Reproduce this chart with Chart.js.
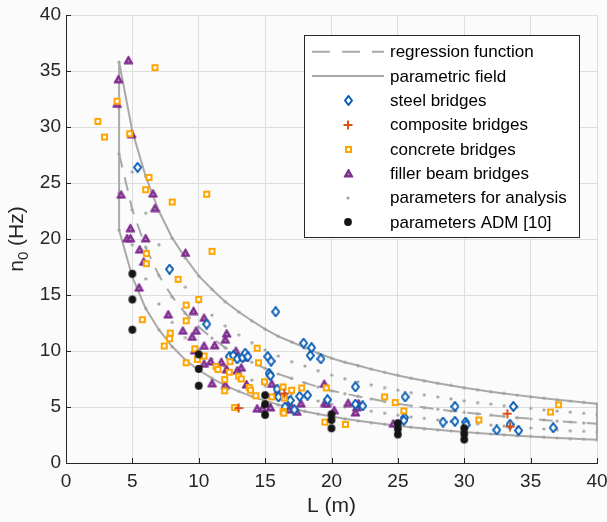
<!DOCTYPE html>
<html>
<head>
<meta charset="utf-8">
<style>
  body { margin: 0; background: #fbfbfb; }
  canvas { display: block; }
</style>
</head>
<body>
<canvas id="freqChart" width="607" height="522"></canvas>

<script src="https://cdn.jsdelivr.net/npm/chart.js"></script>
<script>
    // span lengths of the parametric field (m)
    var spanL = [4,5,6,7,8,9,10,11,12,13,14,15,16,17,18,19,20,21,22,23,24,25,26,27,28,29,30,31,32,33,34,35,36,37,38,39,40];

    // rows of the parametric field (Hz), one value per span
    var upperField = [35.8,29.6,25.6,22.5,20.1,18.3,16.7,15.5,14.4,13.5,12.7,11.95,11.3,10.8,10.3,9.8,9.35,9.0,8.7,8.38,8.09,7.82,7.57,7.34,7.12,6.92,6.72,6.54,6.37,6.21,6.06,5.92,5.78,5.65,5.53,5.41,5.29];
    var upperMid = [31.7,26.0,22.3,19.5,17.4,15.7,14.35,13.2,12.25,11.45,10.75,10.1,9.55,9.05,8.65,8.25,7.85,7.53,7.26,6.99,6.74,6.5,6.29,6.09,5.9,5.73,5.56,5.4,5.26,5.12,4.99,4.87,4.75,4.64,4.54,4.44,4.34];
    var regression = [27.6,22.6,19.25,16.75,14.85,13.35,12.15,11.15,10.3,9.6,9.0,8.45,7.95,7.55,7.15,6.8,6.45,6.2,5.95,5.72,5.5,5.3,5.12,4.95,4.8,4.65,4.52,4.4,4.27,4.16,4.05,3.95,3.85,3.75,3.66,3.58,3.5];
    var lowerMid = [24.1,19.5,16.45,14.2,12.55,11.2,10.15,9.3,8.55,7.9,7.4,6.9,6.5,6.15,5.85,5.55,5.25,5.03,4.82,4.63,4.45,4.28,4.12,3.98,3.84,3.72,3.61,3.5,3.39,3.3,3.2,3.12,3.04,2.96,2.88,2.82,2.75];
    var lowerField = [20.8,16.6,13.8,11.9,10.4,9.2,8.3,7.55,6.9,6.4,5.95,5.55,5.2,4.9,4.6,4.37,4.15,3.95,3.77,3.61,3.46,3.32,3.19,3.07,2.96,2.86,2.77,2.68,2.59,2.52,2.44,2.37,2.31,2.24,2.18,2.13,2.08];

    // measured bridges [L (m), n0 (Hz)]
    var steelBridges = [[5.4,26.4],[7.8,17.3],[10.6,12.4],[15.8,13.5],
        [12.3,9.5],[12.6,9.6],[12.9,9.3],[13.3,9.4],[13.5,9.8],[13.7,9.5],
        [15.2,9.5],[15.45,9.1],[15.3,8.0],[15.4,7.8],
        [17.9,10.7],[18.5,10.3],[18.4,9.6],[19.2,9.3],
        [15.9,6.6],[16.0,5.9],[16.9,5.6],[17.6,5.95],[18.2,6.05],[16.5,5.0],[17.2,4.75],
        [19.7,5.65],[21.8,6.8],[21.8,5.25],[22.35,5.1],
        [25.55,5.9],[25.5,4.05],[25.45,3.8],
        [28.4,3.65],[29.3,5.05],[29.3,3.72],[30.1,3.65],[30.15,3.4],
        [32.45,2.95],[33.7,5.05],[33.45,3.45],[34.1,2.9],[36.7,3.15]];
    var compositeBridges = [[13.0,4.9],[16.45,6.2],[33.25,4.4],[33.45,3.25]];
    var concreteBridges = [[2.4,30.5],[2.9,29.1],[3.85,32.3],[4.8,29.4],[6.7,35.3],[6.25,25.5],[6.0,24.4],[8.0,23.3],[10.6,24.0],
        [6.05,18.7],[6.05,17.8],[11.0,18.9],[8.45,16.4],[10.0,14.6],[9.05,14.1],[5.75,12.8],[9.05,12.7],
        [7.85,11.6],[7.8,11.1],[7.4,10.45],[9.7,10.2],[14.4,10.25],[9.05,8.95],[9.9,9.25],[10.4,9.55],
        [11.3,8.6],[11.45,8.35],[12.35,9.05],[12.3,8.1],[14.5,8.95],[11.95,7.45],[13.0,7.75],[13.2,7.5],
        [11.95,6.45],[13.8,6.75],[13.9,6.5],[14.3,6.0],[14.95,7.25],[12.7,4.95],
        [15.5,5.9],[16.35,6.8],[16.45,5.8],[17.0,6.5],[17.75,6.7],[16.35,4.6],[16.4,4.45],
        [19.6,6.7],[19.5,3.65],[21.05,3.45],[24.0,5.9],[24.8,5.4],[25.45,4.65],[31.1,3.85],[36.5,4.55],[37.1,5.2]];
    var fillerBeamBridges = [[4.7,36.0],[3.95,34.3],[3.85,32.1],[4.95,29.4],[4.15,24.0],[6.55,24.1],[6.7,22.8],[4.85,21.0],
        [4.6,20.1],[4.85,20.1],[6.0,20.1],[5.55,19.1],[9.0,18.8],[5.85,18.0],
        [5.5,15.7],[9.6,13.6],[7.7,13.3],[10.4,13.0],[8.8,11.85],[9.8,11.85],[9.5,11.3],[12.1,11.6],[12.0,11.05],
        [11.2,10.55],[10.4,10.5],[9.7,10.1],[12.8,10.05],[13.45,9.45],[10.4,8.9],[11.7,9.05],[10.9,9.1],
        [12.1,8.4],[12.9,8.3],[13.2,8.55],[11.0,7.15],[12.0,7.0],[13.6,7.05],[15.5,7.1],[14.4,4.9],[14.8,4.9],
        [15.9,6.35],[16.5,6.0],[16.8,5.4],[17.7,5.35],[16.8,4.8],[17.4,4.6],[15.4,5.0],
        [19.45,7.1],[19.5,5.4],[19.65,5.35],[20.2,4.75],[21.25,5.4],[22.05,5.35],[21.9,5.0],[21.8,4.55],[24.65,3.55]];
    var admParameters = [[5,16.9],[5,14.6],[5,11.9],[10,9.7],[10,8.4],[10,6.9],[15,6.05],[15,5.25],[15,4.3],
        [20,4.35],[20,3.85],[20,3.1],[25,3.55],[25,3.05],[25,2.55],[30,3.1],[30,2.6],[30,2.1]];

    // axis ticks
    var tickValues = [0,5,10,15,20,25,30,35,40];

    var FONT = '"Liberation Sans", Arial, Helvetica, sans-serif';
    var LINE_GREY = '#a9a9a9';

    // small marker images, MATLAB style
    function makeMarker(kind) {
        var cv = document.createElement('canvas');
        var c = cv.getContext('2d');
        if (kind === 'diamond') {
            cv.width = 9; cv.height = 11;
            c.beginPath(); c.moveTo(4.5,1); c.lineTo(8,5.5); c.lineTo(4.5,10); c.lineTo(1,5.5); c.closePath();
            c.fillStyle = '#ffffff'; c.fill();
            c.strokeStyle = '#0b5fb5'; c.lineWidth = 2; c.stroke();
        } else if (kind === 'square') {
            cv.width = 9; cv.height = 9;
            c.fillStyle = '#ffffff'; c.fillRect(2,2,5,5);
            c.strokeStyle = '#ffa500'; c.lineWidth = 2; c.strokeRect(2,2,5,5);
        } else if (kind === 'triangle') {
            cv.width = 11; cv.height = 10;
            c.beginPath(); c.moveTo(5.5,1); c.lineTo(10,9); c.lineTo(1,9); c.closePath();
            c.fillStyle = '#7e2f8e'; c.fill();
            c.strokeStyle = '#7e2f8e'; c.lineWidth = 1; c.stroke();
            c.fillStyle = '#c8a3cf'; c.beginPath(); c.arc(5.5,6.3,0.9,0,Math.PI*2); c.fill();
        } else if (kind === 'plus') {
            cv.width = 10; cv.height = 10;
            c.strokeStyle = '#d95319'; c.lineWidth = 2;
            c.beginPath(); c.moveTo(5,0.5); c.lineTo(5,9.5); c.moveTo(0.5,5); c.lineTo(9.5,5); c.stroke();
        } else if (kind === 'dot') {
            cv.width = 10; cv.height = 10;
            c.fillStyle = '#151515'; c.beginPath(); c.arc(5,5,3.9,0,Math.PI*2); c.fill();
        } else {
            cv.width = 4; cv.height = 4;
            c.fillStyle = '#a0a0a0'; c.beginPath(); c.arc(2,2,1.6,0,Math.PI*2); c.fill();
        }
        return cv;
    }
    var markers = {
        steel: makeMarker('diamond'), composite: makeMarker('plus'), concrete: makeMarker('square'),
        filler: makeMarker('triangle'), params: makeMarker('grey'), adm: makeMarker('dot')
    };

    function toPoints(pairs) {
        return pairs.map(function (p) { return {x: p[0], y: p[1]}; });
    }
    function rowPoints(row) {
        return spanL.map(function (l, i) { return {x: l, y: row[i]}; });
    }

    // closed outline of the field: left edge, upper curve, right edge, lower curve back
    var fieldOutline = [];
    fieldOutline.push({x: spanL[0], y: lowerField[0]});
    spanL.forEach(function (l, i) { fieldOutline.push({x: l, y: upperField[i]}); });
    for (var i = spanL.length - 1; i >= 0; i--) fieldOutline.push({x: spanL[i], y: lowerField[i]});

    var paramPoints = [].concat(rowPoints(upperField), rowPoints(upperMid), rowPoints(regression),
                                rowPoints(lowerMid), rowPoints(lowerField));

    var datasets = [
        {label: 'regression function', data: rowPoints(regression), showLine: true, tension: 0,
         borderColor: LINE_GREY, borderWidth: 2, borderDash: [14, 10], pointRadius: 0, clip: false, order: 20},
        {label: 'parametric field', data: fieldOutline, showLine: true, tension: 0,
         borderColor: LINE_GREY, borderWidth: 2, pointRadius: 0, clip: false, order: 21},
        {label: 'steel bridges', data: toPoints(steelBridges), pointStyle: markers.steel, pointRadius: 4, order: 4},
        {label: 'composite bridges', data: toPoints(compositeBridges), pointStyle: markers.composite, pointRadius: 4, order: 2},
        {label: 'concrete bridges', data: toPoints(concreteBridges), pointStyle: markers.concrete, pointRadius: 4, order: 3},
        {label: 'filler beam bridges', data: toPoints(fillerBeamBridges), pointStyle: markers.filler, pointRadius: 4, order: 5},
        {label: 'parameters for analysis', data: paramPoints, pointStyle: markers.params, pointRadius: 2, order: 10},
        {label: 'parameters ADM [10]', data: toPoints(admParameters), pointStyle: markers.adm, pointRadius: 4, order: 1}
    ];

    // background, inward ticks, y title with subscript, boxed legend
    var decorations = {
        id: 'decorations',
        beforeDraw: function (chart) {
            var c = chart.ctx;
            c.save();
            c.fillStyle = '#fbfbfb';
            c.fillRect(0, 0, chart.width, chart.height);
            c.restore();
        },
        afterDraw: function (chart) {
            var c = chart.ctx, a = chart.chartArea;
            var xs = chart.scales.x, ys = chart.scales.y;
            c.save();
            c.strokeStyle = '#262626';
            c.lineWidth = 1;
            c.beginPath();
            tickValues.forEach(function (v) {
                var px = Math.round(xs.getPixelForValue(v)) + 0.5;
                c.moveTo(px, a.bottom); c.lineTo(px, a.bottom - 5);
                var py = Math.round(ys.getPixelForValue(v)) + 0.5;
                c.moveTo(a.left, py); c.lineTo(a.left + 5, py);
            });
            c.stroke();

            // y axis title: n0 (Hz)
            c.translate(23, (a.top + a.bottom) / 2);
            c.rotate(-Math.PI / 2);
            c.fillStyle = '#262626';
            c.textBaseline = 'alphabetic';
            c.font = '21px ' + FONT;
            var wN = c.measureText('n').width, wRest = c.measureText(' (Hz)').width;
            c.font = '15px ' + FONT;
            var wSub = c.measureText('0').width;
            var x0 = -(wN + wSub + wRest) / 2;
            c.font = '21px ' + FONT;
            c.fillText('n', x0, 0);
            c.font = '15px ' + FONT;
            c.fillText('0', x0 + wN, 5);
            c.font = '21px ' + FONT;
            c.fillText(' (Hz)', x0 + wN + wSub, 0);
            c.restore();

            // legend box
            c.save();
            c.fillStyle = '#ffffff';
            c.fillRect(304.5, 35.5, 275, 202);
            c.strokeStyle = '#262626';
            c.lineWidth = 1;
            c.strokeRect(304.5, 35.5, 275, 202);
            c.font = '17px ' + FONT;
            c.textBaseline = 'middle';
            chart.data.datasets.forEach(function (ds, k) {
                var y = 51.7 + k * 24.35;
                if (ds.showLine) {
                    c.save();
                    c.strokeStyle = ds.borderColor;
                    c.lineWidth = 2;
                    if (ds.borderDash) c.setLineDash([18, 12]);
                    c.beginPath(); c.moveTo(312, y); c.lineTo(384, y); c.stroke();
                    c.restore();
                } else {
                    var img = ds.pointStyle;
                    c.drawImage(img, Math.round(348 - img.width / 2), Math.round(y - img.height / 2));
                }
                c.fillStyle = '#000000';
                c.fillText(ds.label, 390, y + 1);
            });
            c.restore();
        }
    };

    var tickFont = {family: FONT, size: 19};

    var ctx = document.getElementById('freqChart').getContext('2d');
    var freqChart = new Chart(ctx, {
        type: 'scatter',
        data: {datasets: datasets},
        options: {
            responsive: false,
            animation: false,
            events: [],
            layout: {padding: {top: 15, right: 10, left: 0, bottom: 0}},
            plugins: {legend: {display: false}, tooltip: {enabled: false}},
            scales: {
                x: {
                    type: 'linear', min: 0, max: 40,
                    ticks: {stepSize: 5, font: tickFont, color: '#262626', padding: 7, maxRotation: 0},
                    grid: {color: '#dedede', drawTicks: false},
                    border: {color: '#262626', width: 1},
                    title: {display: true, text: 'L (m)', color: '#262626',
                            font: {family: FONT, size: 21}, padding: {top: 0, bottom: 3}},
                    afterFit: function (s) { s.height = 59; s.paddingLeft = 0; s.paddingRight = 0; }
                },
                y: {
                    type: 'linear', min: 0, max: 40,
                    ticks: {stepSize: 5, font: tickFont, color: '#262626', padding: 5},
                    grid: {color: '#dedede', drawTicks: false},
                    border: {color: '#262626', width: 1},
                    afterFit: function (s) { s.width = 66; s.paddingTop = 0; s.paddingBottom = 0; }
                }
            }
        },
        plugins: [decorations]
    });
</script>
</body>
</html>
